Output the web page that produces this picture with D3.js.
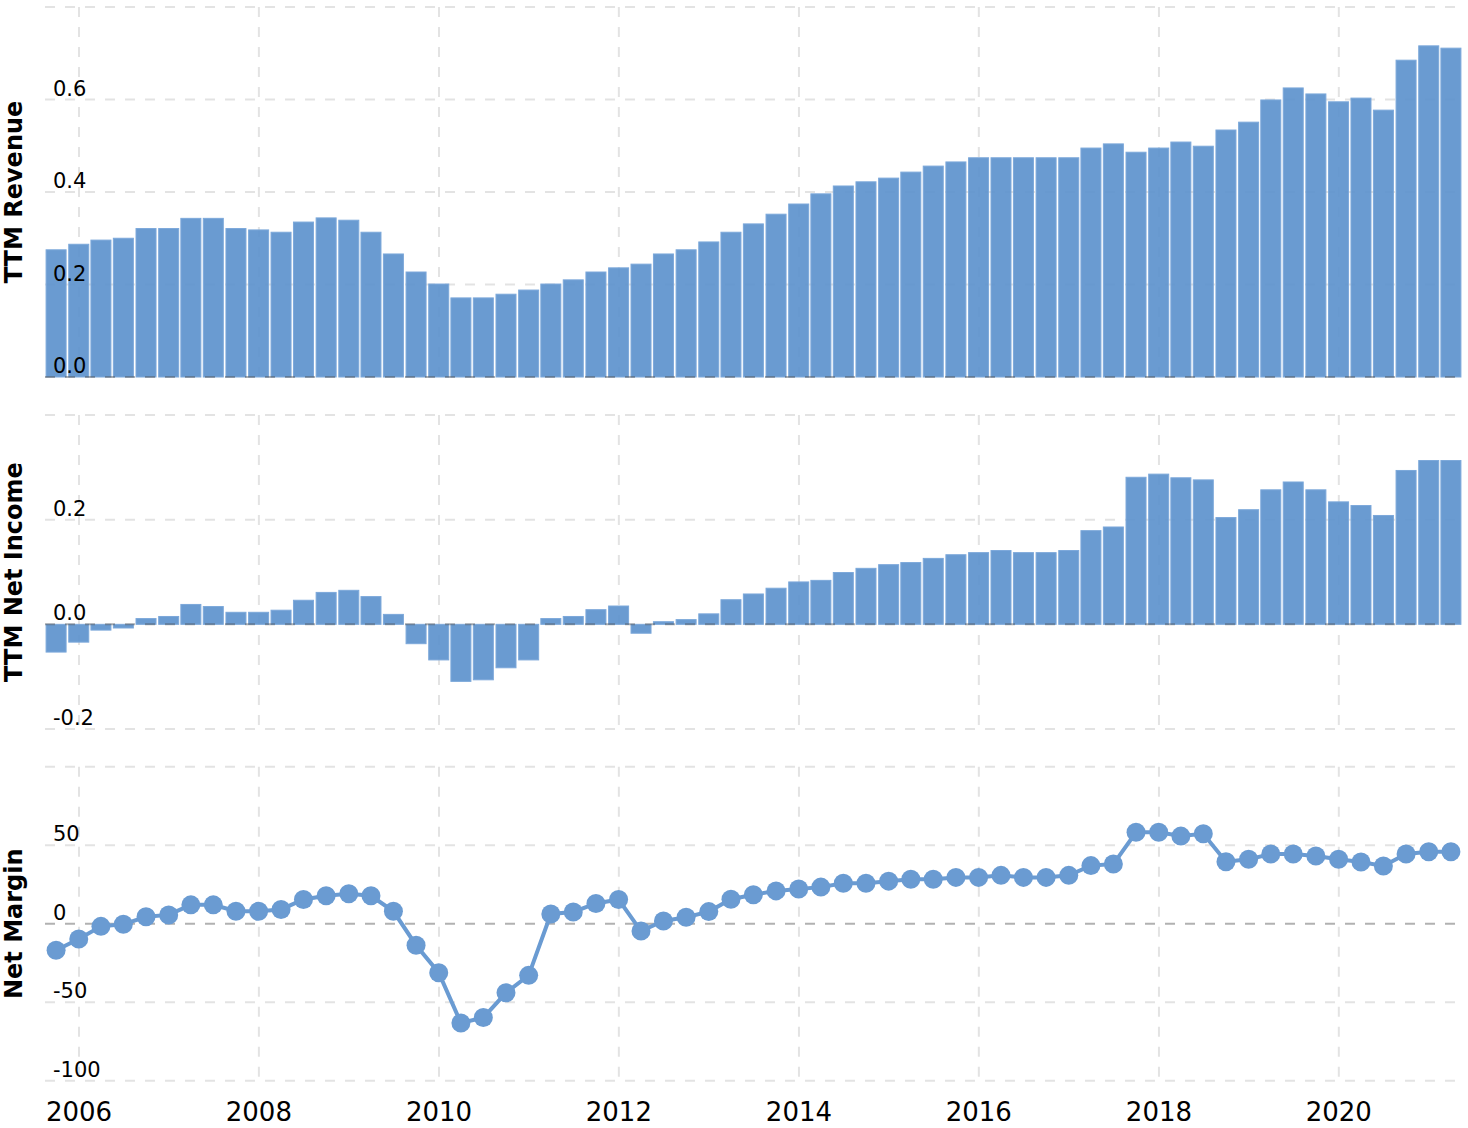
<!DOCTYPE html>
<html>
<head>
<meta charset="utf-8">
<script src="https://cdn.jsdelivr.net/npm/d3@7"></script>
<style>
  body { margin: 0; background: #fff; }
  text { font-family: "DejaVu Sans", Verdana, sans-serif; fill: #000; }
</style>
</head>
<body>
<div id="chart"></div>
<script>
var WIDTH = 1468;
var HEIGHT = 1128;
var BAR_COLOUR = '#5d92cd';
var LINE_COLOUR = '#6a9bd2';

// quarter end dates
var quarters = [
  '2005-09-30', '2005-12-31',
  '2006-03-31', '2006-06-30', '2006-09-30', '2006-12-31',
  '2007-03-31', '2007-06-30', '2007-09-30', '2007-12-31',
  '2008-03-31', '2008-06-30', '2008-09-30', '2008-12-31',
  '2009-03-31', '2009-06-30', '2009-09-30', '2009-12-31',
  '2010-03-31', '2010-06-30', '2010-09-30', '2010-12-31',
  '2011-03-31', '2011-06-30', '2011-09-30', '2011-12-31',
  '2012-03-31', '2012-06-30', '2012-09-30', '2012-12-31',
  '2013-03-31', '2013-06-30', '2013-09-30', '2013-12-31',
  '2014-03-31', '2014-06-30', '2014-09-30', '2014-12-31',
  '2015-03-31', '2015-06-30', '2015-09-30', '2015-12-31',
  '2016-03-31', '2016-06-30', '2016-09-30', '2016-12-31',
  '2017-03-31', '2017-06-30', '2017-09-30', '2017-12-31',
  '2018-03-31', '2018-06-30', '2018-09-30', '2018-12-31',
  '2019-03-31', '2019-06-30', '2019-09-30', '2019-12-31',
  '2020-03-31', '2020-06-30', '2020-09-30', '2020-12-31',
  '2021-03-31'
];

var revenue = [
  0.275, 0.287,
  0.296, 0.300, 0.321, 0.321,
  0.343, 0.343, 0.321, 0.318,
  0.313, 0.335, 0.344, 0.339,
  0.313, 0.266, 0.227, 0.201,
  0.171, 0.171, 0.179, 0.188,
  0.201, 0.210, 0.227, 0.236,
  0.244, 0.266, 0.275, 0.292,
  0.313, 0.331, 0.352, 0.374,
  0.396, 0.413, 0.422, 0.430,
  0.443, 0.456, 0.465, 0.474,
  0.474, 0.474, 0.474, 0.474,
  0.495, 0.504, 0.486, 0.495,
  0.508, 0.499, 0.534, 0.551,
  0.599, 0.625, 0.612, 0.595,
  0.603, 0.577, 0.685, 0.716,
  0.711
];

var netIncome = [
  -0.053, -0.034,
  -0.011, -0.007, 0.011, 0.015,
  0.038, 0.034, 0.023, 0.023,
  0.027, 0.046, 0.061, 0.065,
  0.053, 0.019, -0.037, -0.068,
  -0.109, -0.106, -0.083, -0.068,
  0.011, 0.015, 0.028, 0.035,
  -0.017, 0.005, 0.009, 0.020,
  0.047, 0.058, 0.069, 0.081,
  0.084, 0.099, 0.107, 0.114,
  0.118, 0.126, 0.133, 0.137,
  0.141, 0.137, 0.137, 0.141,
  0.179, 0.186, 0.281, 0.287,
  0.280, 0.276, 0.204, 0.219,
  0.257, 0.272, 0.257, 0.234,
  0.227, 0.208, 0.294, 0.313,
  0.313
];

var netMargin = [
  -16.9, -9.8,
  -1.7, -0.4, 4.4, 5.6,
  12.0, 12.0, 7.9, 7.9,
  9.1, 15.4, 17.8, 19.1,
  17.8, 7.9, -13.7, -31.2,
  -63.2, -59.8, -44.0, -32.9,
  6.2, 7.5, 12.9, 15.4,
  -4.7, 1.7, 4.1, 7.7,
  15.6, 18.4, 20.9, 22.1,
  23.3, 25.8, 25.8, 27.1,
  28.3, 28.3, 29.5, 29.5,
  30.8, 29.5, 29.5, 30.8,
  37.0, 38.0, 58.2, 58.2,
  55.8, 57.3, 39.5, 41.0,
  44.4, 44.4, 43.1, 41.0,
  39.3, 36.8, 44.4, 45.8,
  45.8
];

var yearTicks = [2006, 2008, 2010, 2012, 2014, 2016, 2018, 2020];

var panels = [
  { title: 'TTM Revenue', values: revenue, type: 'bar', domain: [0, 0.8], ticks: [0.8, 0.6, 0.4, 0.2, 0.0], labelled: [0.6, 0.4, 0.2, 0.0], fmt: d3.format('.1f'), top: 7, bottom: 377 },
  { title: 'TTM Net Income', values: netIncome, type: 'bar', domain: [-0.2, 0.4], ticks: [0.4, 0.2, 0.0, -0.2], labelled: [0.2, 0.0, -0.2], fmt: d3.format('.1f'), top: 415, bottom: 729 },
  { title: 'Net Margin', values: netMargin, type: 'line', domain: [-100, 100], ticks: [100, 50, 0, -50, -100], labelled: [50, 0, -50, -100], fmt: d3.format('d'), top: 766.7, bottom: 1080.7 }
];

var parse = d3.timeParse('%Y-%m-%d');
var dates = quarters.map(parse);

var x = d3.scaleTime()
    .domain([new Date(2005, 7, 16), new Date(2021, 4, 15)])
    .range([45, 1462]);

var svg = d3.select('#chart')
    .append('svg')
    .attr('width', WIDTH)
    .attr('height', HEIGHT);

var fmtMinus = function(s) { return s.replace('−', '-'); };

panels.forEach(function(p) {
    var y = d3.scaleLinear().domain(p.domain).range([p.bottom, p.top]);
    var g = svg.append('g');
    var data = p.values.map(function(v, i) { return { date: dates[i], value: v }; });

    // vertical grid
    g.selectAll('.vgrid')
      .data(yearTicks)
      .enter().append('line')
      .attr('x1', (d) => x(new Date(d, 0, 1)))
      .attr('x2', (d) => x(new Date(d, 0, 1)))
      .attr('y1', p.top)
      .attr('y2', p.bottom)
      .attr('stroke', '#e3e3e3')
      .attr('stroke-width', 2)
      .attr('stroke-dasharray', '10,10');

    // horizontal grid
    g.selectAll('.hgrid')
      .data(p.ticks.filter((t) => t !== 0))
      .enter().append('line')
      .attr('x1', x.range()[0])
      .attr('x2', x.range()[1])
      .attr('y1', (d) => y(d))
      .attr('y2', (d) => y(d))
      .attr('stroke', '#e3e3e3')
      .attr('stroke-width', 2)
      .attr('stroke-dasharray', '10,10');

    if (p.type === 'bar') {
        g.selectAll('rect')
          .data(data)
          .enter().append('rect')
          .attr('x', (d) => x(d.date) - 10)
          .attr('width', 20)
          .attr('y', (d) => y(Math.max(0, d.value)))
          .attr('height', (d) => Math.abs(y(d.value) - y(0)))
          .attr('fill', BAR_COLOUR)
          .attr('fill-opacity', 0.92)
          .attr('stroke', '#7ca8da')
          .attr('stroke-width', 1);
    }

    // zero line
    g.append('line')
      .attr('x1', x.range()[0])
      .attr('x2', x.range()[1])
      .attr('y1', y(0))
      .attr('y2', y(0))
      .attr('stroke', 'rgba(70,70,70,0.42)')
      .attr('stroke-width', 2)
      .attr('stroke-dasharray', '10,10');

    if (p.type === 'line') {
        var line = d3.line()
            .x((d) => x(d.date))
            .y((d) => y(d.value));
        g.append('path')
          .datum(data)
          .attr('d', line)
          .attr('fill', 'none')
          .attr('stroke', LINE_COLOUR)
          .attr('stroke-width', 4);
        g.selectAll('circle')
          .data(data)
          .enter().append('circle')
          .attr('cx', (d) => x(d.date))
          .attr('cy', (d) => y(d.value))
          .attr('r', 9.5)
          .attr('fill', LINE_COLOUR);
    }

    // tick labels inside the plot
    g.selectAll('.tick-label')
      .data(p.labelled)
      .enter().append('text')
      .attr('x', 53)
      .attr('y', (d) => y(d) - 4)
      .attr('font-size', 21)
      .text((d) => fmtMinus(p.fmt(d)));

    svg.append('text')
      .attr('transform', 'translate(22,' + ((p.top + p.bottom) / 2) + ')rotate(-90)')
      .attr('text-anchor', 'middle')
      .attr('font-size', 24)
      .attr('font-weight', 'bold')
      .text(p.title);
});

svg.selectAll('.year')
  .data(yearTicks)
  .enter().append('text')
  .attr('x', (d) => x(new Date(d, 0, 1)))
  .attr('y', 1121)
  .attr('text-anchor', 'middle')
  .attr('font-size', 26)
  .text((d) => d);
</script>
</body>
</html>
